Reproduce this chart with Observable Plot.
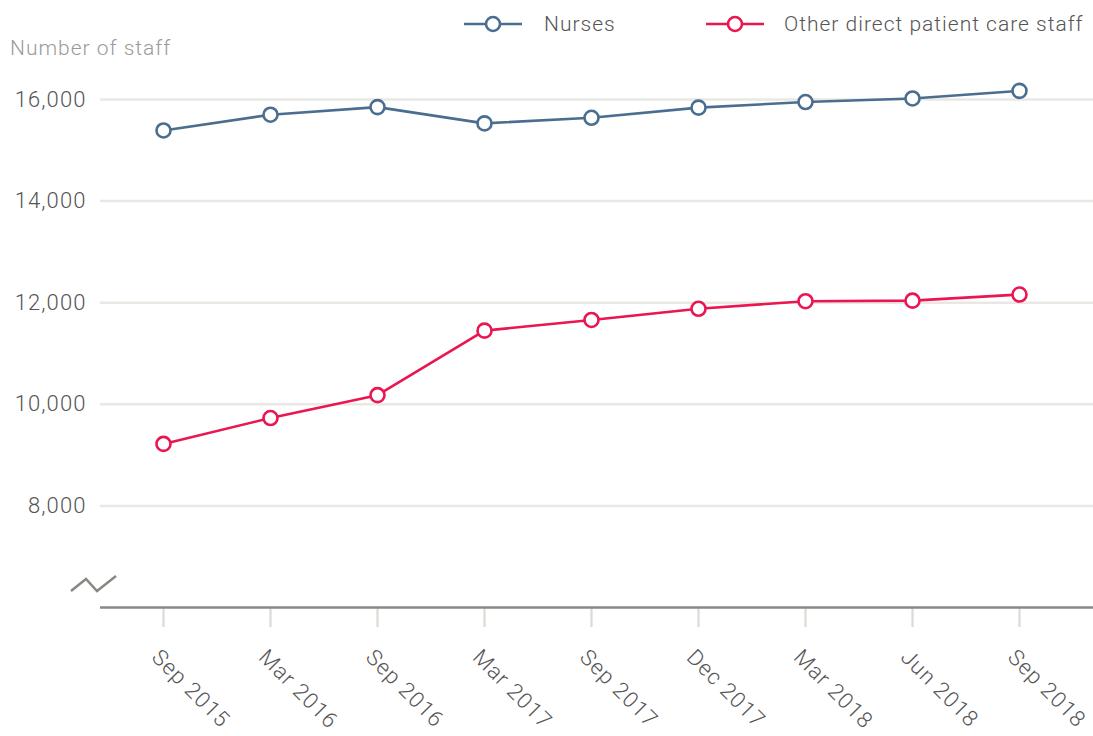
<!DOCTYPE html>
<html>
<head>
<meta charset="utf-8">
<script src="https://cdn.jsdelivr.net/npm/d3@7"></script>
<script src="https://cdn.jsdelivr.net/npm/@observablehq/plot@0.6"></script>
<style>
  html, body { margin: 0; padding: 0; background: #fff; }
  body { font-family: Roboto, "Noto Sans", sans-serif; font-weight: 300; }
  #page { position: relative; width: 1093px; height: 736px; overflow: hidden; }
  #header { position: relative; height: 60px; }
  .leg-mark { position: absolute; top: 14px; }
  .leg-text { position: absolute; top: 10px; font-size: 21px; letter-spacing: 1px; color: #555; line-height: 28px; white-space: nowrap; }
  #ytitle { position: absolute; left: 10px; top: 34px; font-size: 21px; letter-spacing: 1px; color: #9a9a9a; line-height: 28px; white-space: nowrap; }
  #overlay { position: absolute; left: 0; top: 0; pointer-events: none; }
  #chart svg text { letter-spacing: 1.1px; }
</style>
</head>
<body>
<div id="page">
  <div id="header"></div>
  <div id="chart"></div>
  <svg id="overlay" width="1093" height="736"></svg>
</div>
<script>
const periods = ["Sep 2015", "Mar 2016", "Sep 2016", "Mar 2017", "Sep 2017", "Dec 2017", "Mar 2018", "Jun 2018", "Sep 2018"];
const nurses = [15390, 15700, 15850, 15530, 15640, 15840, 15950, 16020, 16170];
const otherStaff = [9220, 9730, 10180, 11450, 11660, 11880, 12030, 12040, 12160];
const seriesNames = ["Nurses", "Other direct patient care staff"];
const seriesColors = ["#4b6d90", "#ea1551"];
const yTicks = [8000, 10000, 12000, 14000, 16000];
const yBase = 6000;
const yTitle = "Number of staff";

const data = [
  ...periods.map((p, i) => ({period: p, value: nurses[i], series: seriesNames[0]})),
  ...periods.map((p, i) => ({period: p, value: otherStaff[i], series: seriesNames[1]}))
];

// Header: legend + y title
const header = document.getElementById("header");
const legPos = [{mark: 464, text: 544}, {mark: 706, text: 784}];
seriesNames.forEach((name, i) => {
  const m = document.createElementNS("http://www.w3.org/2000/svg", "svg");
  m.setAttribute("class", "leg-mark");
  m.setAttribute("width", 60);
  m.setAttribute("height", 20);
  m.style.left = legPos[i].mark + "px";
  m.innerHTML = `<line x1="0" x2="58" y1="10" y2="10" stroke="${seriesColors[i]}" stroke-width="2.5"/>` +
    `<circle cx="29" cy="10" r="7" fill="white" stroke="${seriesColors[i]}" stroke-width="2.6"/>`;
  header.appendChild(m);
  const t = document.createElement("div");
  t.className = "leg-text";
  t.style.left = legPos[i].text + "px";
  t.textContent = name;
  header.appendChild(t);
});
const yt = document.createElement("div");
yt.id = "ytitle";
yt.textContent = yTitle;
header.appendChild(yt);

const chart = Plot.plot({
  width: 1093,
  height: 676,
  marginLeft: 100,
  marginRight: 0,
  marginTop: 39,
  marginBottom: 129,
  style: {fontFamily: "Roboto, 'Noto Sans', sans-serif", fontWeight: 300, color: "#555", background: "white", overflow: "visible"},
  x: {type: "point", domain: periods, range: [162, 1020], padding: 0},
  y: {domain: [yBase, 16000]},
  color: {domain: seriesNames, range: seriesColors},
  marks: [
    Plot.ruleY(yTicks, {stroke: "#e9e8e3", strokeWidth: 2.5}),
    Plot.axisY({ticks: yTicks, tickSize: 0, tickPadding: 14, tickFormat: d3.format(","), fontSize: 22, label: null, fill: "#555"}),
    Plot.axisX({tickSize: 20, stroke: "#dcdad4", strokeWidth: 2.2, tickFormat: () => "", label: null}),
    Plot.axisX({tickSize: 0, tickRotate: 45, tickPadding: 33, dx: -8, dy: 13, fontSize: 22, label: null, fill: "#555"}),
    Plot.ruleY([yBase], {stroke: "#8b8884", strokeWidth: 2.5}),
    Plot.line(data, {x: "period", y: "value", z: "series", stroke: "series", strokeWidth: 2.6}),
    Plot.dot(data, {x: "period", y: "value", stroke: "series", fill: "white", r: 7, strokeWidth: 2.6})
  ]
});
document.getElementById("chart").appendChild(chart);

// axis break decoration
document.getElementById("overlay").innerHTML =
  `<polyline points="71,591 86,579 97,591 116,576" fill="none" stroke="#8b8884" stroke-width="2.5"/>`;
</script>
</body>
</html>
